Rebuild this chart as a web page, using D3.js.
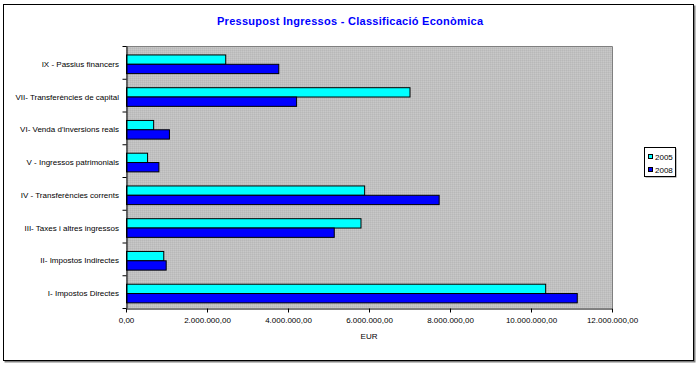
<!DOCTYPE html>
<html>
<head>
<meta charset="utf-8">
<script src="https://cdn.jsdelivr.net/npm/d3@7"></script>
<style>
  body { margin: 0; background: #fff; }
  svg { display: block; font-family: Arial, "Liberation Sans", sans-serif; }
</style>
</head>
<body>
<script>
// categories top to bottom, as in the picture
const categories = [
  'IX - Passius financers',
  'VII- Transferències de capital',
  "VI- Venda d'inversions reals",
  'V - Ingressos patrimonials',
  'IV - Transferències corrents',
  'III- Taxes i altres ingressos',
  'II- Impostos Indirectes',
  'I- Impostos Directes'
];
const years = ['2005', '2008'];
const values2005 = [2450000, 7000000, 670000, 520000, 5880000, 5790000, 920000, 10350000];
const values2008 = [3760000, 4200000, 1060000, 800000, 7720000, 5130000, 980000, 11130000];
const xTicks = [0, 2000000, 4000000, 6000000, 8000000, 10000000, 12000000];

const colors = { '2005': '#00ffff', '2008': '#0000ff' };

const width = 700;
const height = 365;
const plot = { left: 126, right: 612, top: 46, bottom: 308 };

const caFormat = d3.formatLocale({
  decimal: ',', thousands: '.', grouping: [3], currency: ['', ' €']
}).format(',.2f');

const data = categories.map((c, i) => ({
  cat: c,
  vals: [
    { year: '2005', value: values2005[i] },
    { year: '2008', value: values2008[i] }
  ]
}));

const svg = d3.select('body').append('svg')
  .attr('width', width)
  .attr('height', height);

// pattern for the grey plot area
const defs = svg.append('defs');
const pat = defs.append('pattern')
  .attr('id', 'dither')
  .attr('width', 2).attr('height', 2)
  .attr('patternUnits', 'userSpaceOnUse');
pat.append('rect').attr('width', 2).attr('height', 2).attr('fill', '#c0c0c0');
pat.append('rect').attr('width', 1).attr('height', 1).attr('fill', '#b8b8b8');
pat.append('rect').attr('x', 1).attr('y', 1).attr('width', 1).attr('height', 1).attr('fill', '#c8c8c8');

// outer frame with a little shadow
svg.append('rect')
  .attr('x', 4.5).attr('y', 5.5)
  .attr('width', 691).attr('height', 357)
  .attr('fill', '#808080');
svg.append('rect')
  .attr('x', 3.5).attr('y', 4.5)
  .attr('width', 690).attr('height', 356)
  .attr('fill', '#fff')
  .attr('stroke', '#000');

// title
svg.append('text')
  .attr('x', 217)
  .attr('y', 25)
  .attr('textLength', 266)
  .attr('lengthAdjust', 'spacing')
  .attr('fill', '#0000ff')
  .attr('font-weight', 'bold')
  .attr('font-size', '11px')
  .text('Pressupost Ingressos - Classificació Econòmica');

// scales
const x = d3.scaleLinear()
  .domain([0, 12000000])
  .range([plot.left, plot.right]);

const yBand = d3.scaleBand()
  .domain(categories)
  .range([plot.top, plot.bottom]);

const yBar = d3.scaleBand()
  .domain(categories)
  .range([plot.top, plot.bottom])
  .paddingInner(0.43)
  .paddingOuter(0.215)
  .align(0.6);

const ySub = d3.scaleBand()
  .domain(years)
  .range([0, yBar.bandwidth()]);

const yIdx = d3.scaleLinear()
  .domain([0, categories.length])
  .range([plot.top, plot.bottom]);

// plot area
svg.append('rect')
  .attr('x', plot.left).attr('y', plot.top)
  .attr('width', plot.right - plot.left)
  .attr('height', plot.bottom - plot.top)
  .attr('fill', 'url(#dither)');
svg.append('path')
  .attr('d', `M${plot.left},${plot.top + 0.5}H${plot.right + 0.5}V${plot.bottom}`)
  .attr('fill', 'none')
  .attr('stroke', '#808080');

// bars
const groups = svg.selectAll('g.cat').data(data)
  .enter().append('g')
  .attr('class', 'cat')
  .attr('transform', d => `translate(0, ${yBar(d.cat)})`);

groups.selectAll('rect').data(d => d.vals)
  .enter().append('rect')
  .attr('x', x(0) + 0.5)
  .attr('y', d => ySub(d.year) + 0.5)
  .attr('width', d => x(d.value) - x(0))
  .attr('height', ySub.bandwidth())
  .attr('fill', d => colors[d.year])
  .attr('stroke', '#000')
  .attr('stroke-width', 1);

// y axis: boundary ticks + labels
const yAxisG = svg.append('g')
  .attr('transform', `translate(${plot.left + 0.5}, 0)`)
  .call(d3.axisLeft(yIdx)
    .tickValues(d3.range(categories.length + 1))
    .tickFormat('')
    .tickSize(4)
    .tickSizeOuter(0));
yAxisG.selectAll('line, path').attr('stroke', '#000');

const yLabels = svg.append('g')
  .attr('transform', `translate(${plot.left - 7}, 0)`)
  .call(d3.axisLeft(yBand).tickSize(0).tickPadding(0));
yLabels.select('.domain').remove();
yLabels.selectAll('text')
  .attr('font-family', 'Arial, "Liberation Sans", sans-serif')
  .attr('font-size', '8px')
  .attr('fill', '#000')
  .attr('dy', '0.55em');

// x axis
const xAxisG = svg.append('g')
  .attr('transform', `translate(0, ${plot.bottom + 0.5})`)
  .call(d3.axisBottom(x)
    .tickValues(xTicks)
    .tickFormat(d => caFormat(d))
    .tickSize(4)
    .tickSizeOuter(0)
    .tickPadding(5));
xAxisG.selectAll('line, path').attr('stroke', '#000');
xAxisG.selectAll('text')
  .attr('font-family', 'Arial, "Liberation Sans", sans-serif')
  .attr('font-size', '8px')
  .attr('fill', '#000');

svg.append('text')
  .attr('x', 369)
  .attr('y', 339)
  .attr('text-anchor', 'middle')
  .attr('font-size', '8px')
  .text('EUR');

// legend
const legend = svg.append('g')
  .attr('transform', 'translate(644, 147)');
legend.append('rect')
  .attr('x', 1.5).attr('y', 1.5)
  .attr('width', 31).attr('height', 29)
  .attr('fill', '#808080');
legend.append('rect')
  .attr('x', 0.5).attr('y', 0.5)
  .attr('width', 31).attr('height', 29)
  .attr('fill', '#fff')
  .attr('stroke', '#000');

const legendItems = legend.selectAll('g.item').data(years)
  .enter().append('g')
  .attr('class', 'item')
  .attr('transform', (d, i) => `translate(4, ${7 + i * 13})`);
legendItems.append('rect')
  .attr('x', 0.5).attr('y', 0.5)
  .attr('width', 4).attr('height', 4)
  .attr('fill', d => colors[d])
  .attr('stroke', '#000');
legendItems.append('text')
  .attr('x', 7)
  .attr('y', 6)
  .attr('font-size', '8px')
  .text(d => d);
</script>
</body>
</html>
